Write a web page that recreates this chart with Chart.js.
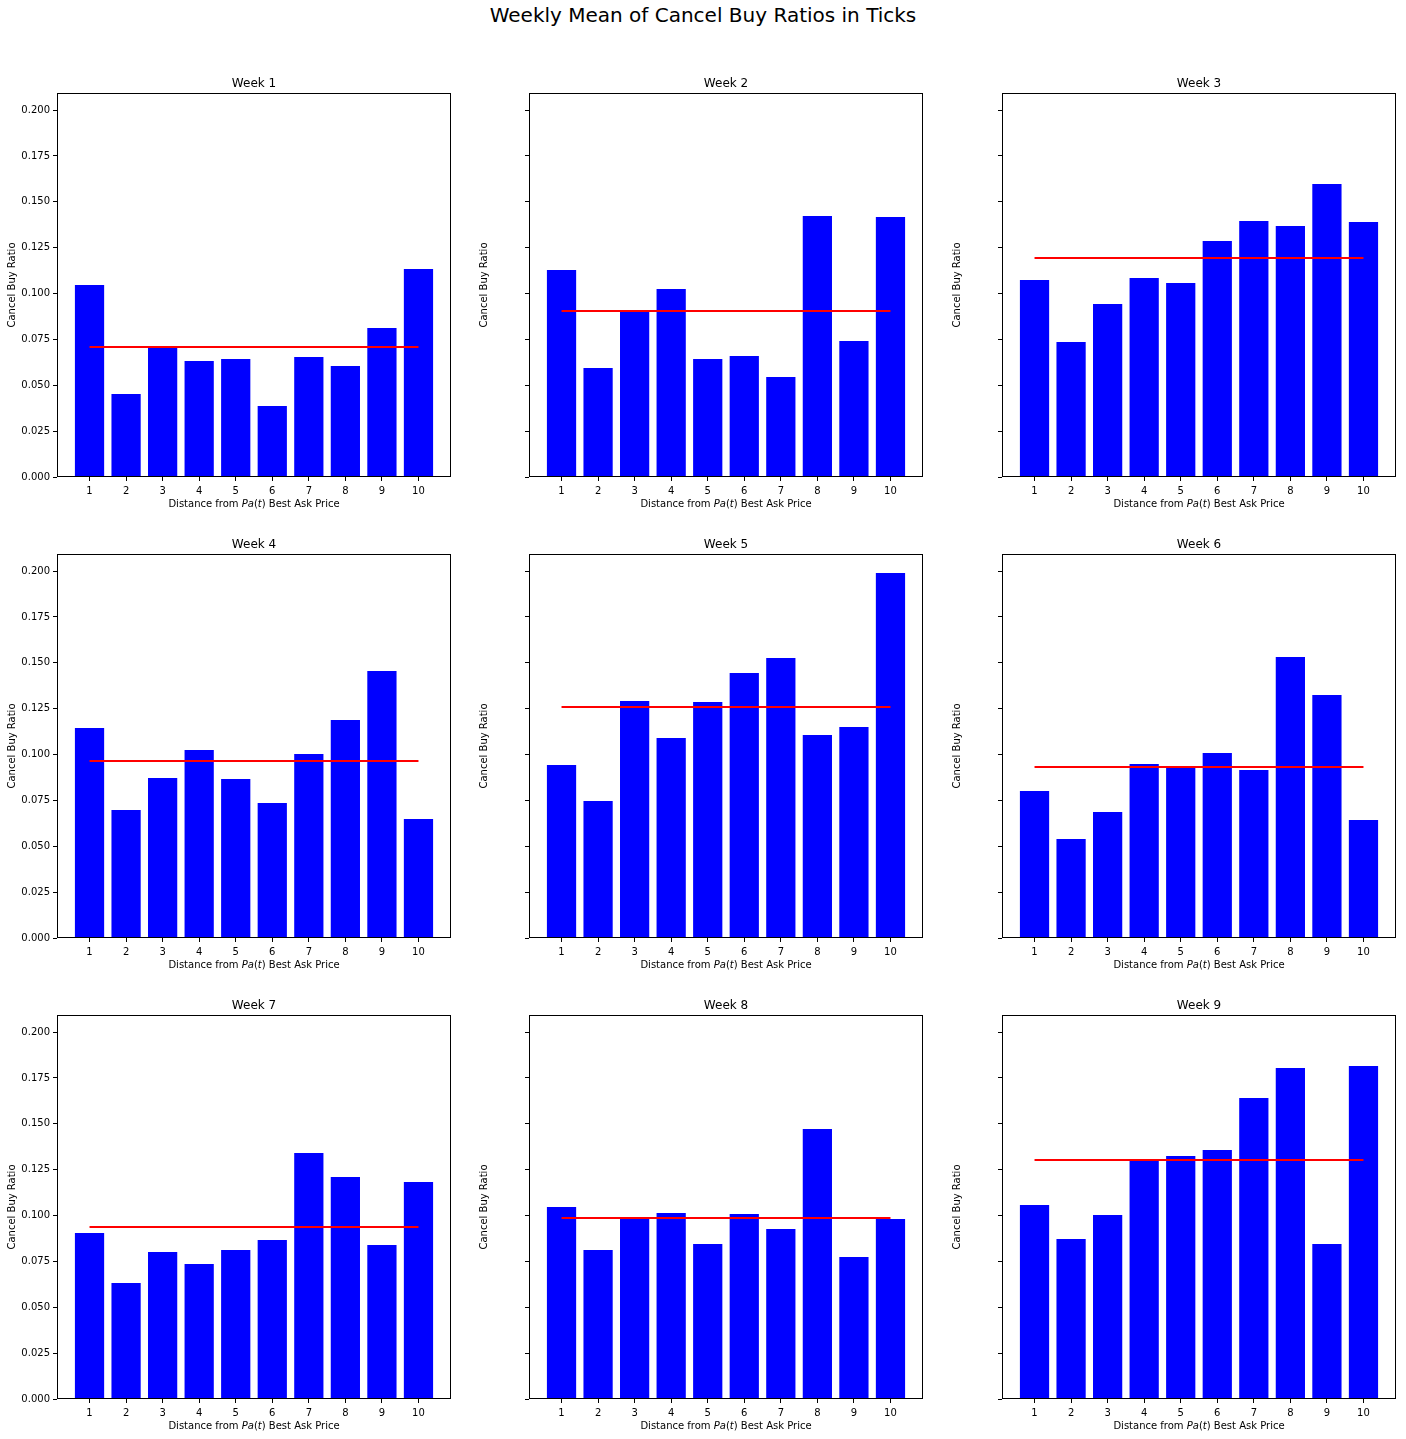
<!DOCTYPE html>
<html>
<head>
<meta charset="utf-8">
<script src="https://cdn.jsdelivr.net/npm/chart.js@4.4.1/dist/chart.umd.min.js"></script>
<style>
  body { margin: 0; background: #fff; overflow: hidden; }
  #page { position: relative; width: 1406px; height: 1439px; overflow: hidden; font-family: "DejaVu Sans", sans-serif; }
  #suptitle { position: absolute; left: 0; width: 1406px; top: 3px; text-align: center; font-size: 20px; color: #000; }
  .cell { position: absolute; }
  .cell canvas { display: block; }
</style>
</head>
<body>
<div id="page">
  <div id="suptitle">Weekly Mean of Cancel Buy Ratios in Ticks</div>
</div>
<script>
// Data
const distances = [1, 2, 3, 4, 5, 6, 7, 8, 9, 10];
const weekTitles = ['Week 1', 'Week 2', 'Week 3', 'Week 4', 'Week 5', 'Week 6', 'Week 7', 'Week 8', 'Week 9'];

const week1 = [0.1046, 0.0452, 0.0708, 0.0632, 0.0643, 0.0387, 0.0654, 0.0605, 0.0812, 0.1134];
const week2 = [0.1128, 0.0594, 0.0905, 0.1025, 0.0643, 0.0659, 0.0545, 0.1422, 0.0741, 0.1417];
const week3 = [0.1074, 0.0736, 0.0943, 0.1084, 0.1057, 0.1286, 0.1395, 0.1368, 0.1597, 0.1390];
const week4 = [0.1144, 0.0698, 0.0872, 0.1025, 0.0866, 0.0736, 0.1003, 0.1188, 0.1455, 0.0649];
const week5 = [0.0943, 0.0747, 0.1292, 0.1090, 0.1286, 0.1444, 0.1526, 0.1106, 0.1150, 0.1989];
const week6 = [0.0801, 0.0540, 0.0687, 0.0948, 0.0932, 0.1008, 0.0916, 0.1531, 0.1324, 0.0643];
const week7 = [0.0905, 0.0632, 0.0801, 0.0736, 0.0812, 0.0866, 0.1341, 0.1210, 0.0839, 0.1183];
const week8 = [0.1046, 0.0812, 0.0986, 0.1014, 0.0845, 0.1008, 0.0926, 0.1471, 0.0774, 0.0981];
const week9 = [0.1057, 0.0872, 0.1003, 0.1302, 0.1324, 0.1357, 0.1640, 0.1804, 0.0845, 0.1815];
const weekData = [week1, week2, week3, week4, week5, week6, week7, week8, week9];

// red horizontal line per week (mean level)
const weekMeans = [0.0708, 0.0905, 0.1193, 0.0965, 0.1259, 0.0932, 0.0937, 0.0986, 0.1302];

const yTicks = [0, 0.025, 0.05, 0.075, 0.1, 0.125, 0.15, 0.175, 0.2];
const yMax = 0.2093;

// layout (plot area boxes)
const plotLefts = [57, 529, 1002];
const plotTops = [93, 554, 1015];
const plotW = 394, plotH = 384;
const padL = 57, padT = 30, padB = 40, padR = 10;

const FONT = '"DejaVu Sans", sans-serif';

// frame around the plot area + subplot title centred over it
const framePlugin = {
  id: 'frame',
  afterDraw(chart, args, opts) {
    const { ctx, chartArea: a } = chart;
    ctx.save();
    ctx.strokeStyle = '#000';
    ctx.lineWidth = 1;
    ctx.strokeRect(Math.round(a.left) + 0.5, Math.round(a.top) + 0.5, Math.round(a.right - a.left) - 1, Math.round(a.bottom - a.top) - 1);
    ctx.fillStyle = '#000';
    ctx.font = '12px ' + FONT;
    ctx.textAlign = 'center';
    ctx.textBaseline = 'alphabetic';
    ctx.fillText(opts.text, (a.left + a.right) / 2, a.top - 6);
    ctx.restore();
  }
};

// x axis title with italic mathtext part: Distance from Pa(t) Best Ask Price
const xTitlePlugin = {
  id: 'xTitle',
  afterDraw(chart) {
    const { ctx, chartArea: a } = chart;
    const normal = '10px ' + FONT;
    const italic = 'italic 10px ' + FONT;
    const parts = [
      ['Distance from ', normal], ['Pa', italic], ['(', normal], ['t', italic], [')', normal], [' Best Ask Price', normal]
    ];
    ctx.save();
    let total = 0;
    parts.forEach(p => { ctx.font = p[1]; total += ctx.measureText(p[0]).width; });
    let x = (a.left + a.right) / 2 - total / 2;
    const y = a.bottom + 27;
    ctx.fillStyle = '#000';
    ctx.textBaseline = 'middle';
    ctx.textAlign = 'left';
    parts.forEach(p => {
      ctx.font = p[1];
      ctx.fillText(p[0], x, y);
      x += ctx.measureText(p[0]).width;
    });
    ctx.restore();
  }
};

const page = document.getElementById('page');

weekData.forEach((values, i) => {
  const row = Math.floor(i / 3), col = i % 3;
  const div = document.createElement('div');
  div.className = 'cell';
  const w = padL + plotW + padR, h = padT + plotH + padB;
  div.style.left = (plotLefts[col] - padL) + 'px';
  div.style.top = (plotTops[row] - padT) + 'px';
  div.style.width = w + 'px';
  div.style.height = h + 'px';
  const canvas = document.createElement('canvas');
  canvas.width = w;
  canvas.height = h;
  canvas.style.width = w + 'px';
  canvas.style.height = h + 'px';
  div.appendChild(canvas);
  page.appendChild(div);

  new Chart(canvas.getContext('2d'), {
    data: {
      datasets: [
        {
          type: 'line',
          data: [{ x: distances[0], y: weekMeans[i] }, { x: distances[distances.length - 1], y: weekMeans[i] }],
          borderColor: '#ff0000',
          borderWidth: 2,
          pointRadius: 0,
          order: 0
        },
        {
          type: 'bar',
          data: distances.map((d, k) => ({ x: d, y: values[k] })),
          backgroundColor: '#0000ff',
          borderWidth: 0,
          categoryPercentage: 1,
          barPercentage: 0.8,
          order: 1
        }
      ]
    },
    options: {
      responsive: false,
      animation: false,
      devicePixelRatio: 1,
      layout: { padding: { left: 6, right: padR, top: padT, bottom: 0 } },
      plugins: {
        legend: { display: false },
        tooltip: { enabled: false },
        title: { display: false },
        frame: { text: weekTitles[i] }
      },
      scales: {
        x: {
          type: 'linear',
          min: 0.11,
          max: 10.89,
          offset: false,
          afterBuildTicks: (axis) => { axis.ticks = distances.map(v => ({ value: v })); },
          afterFit: (axis) => { axis.height = padB; },
          grid: { display: true, offset: false, drawOnChartArea: false, drawTicks: true, tickLength: 4, color: '#000' },
          border: { display: false },
          ticks: {
            color: '#000',
            font: { family: FONT, size: 10 },
            padding: 4,
            maxRotation: 0,
            autoSkip: false,
            callback: (v) => String(v)
          }
        },
        y: {
          type: 'linear',
          min: 0,
          max: yMax,
          afterBuildTicks: (axis) => { axis.ticks = yTicks.map(v => ({ value: v })); },
          afterFit: (axis) => { axis.width = padL - 6; },
          grid: { display: true, drawOnChartArea: false, drawTicks: true, tickLength: 4, color: '#000' },
          border: { display: false },
          title: {
            display: true,
            text: 'Cancel Buy Ratio',
            color: '#000',
            font: { family: FONT, size: 10 },
            padding: { top: 0, bottom: 0 }
          },
          ticks: {
            display: col === 0,
            autoSkip: false,
            color: '#000',
            font: { family: FONT, size: 10 },
            padding: 3,
            callback: (v) => v.toFixed(3)
          }
        }
      }
    },
    plugins: [framePlugin, xTitlePlugin]
  });
});
</script>
</body>
</html>
